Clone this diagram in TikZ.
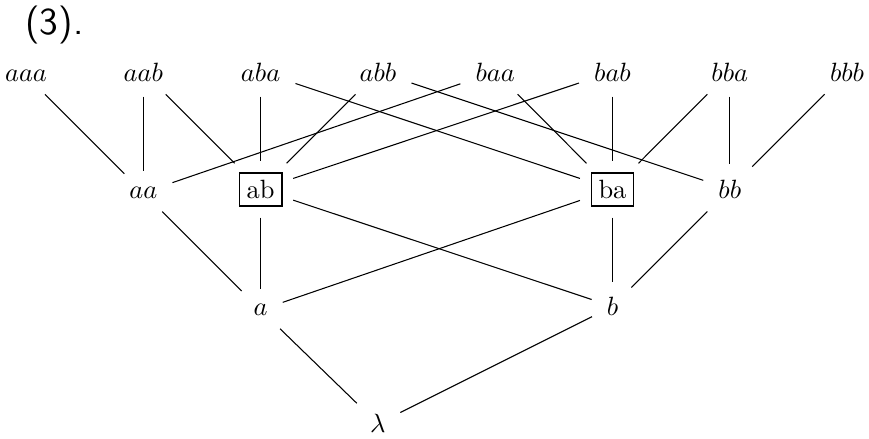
\documentclass[tikz,border=0pt]{standalone}
\usepackage{amsmath}
\usetikzlibrary{calc}

\begin{document}
\begin{tikzpicture}[
  x=1.56cm, y=1.56cm,
  word/.style={inner sep=2.7pt, anchor=base},
  boxed/.style={word, draw, line width=0.6pt, outer sep=1.5pt},
  link/.style={thin, shorten >=3pt, shorten <=3pt},
]
\useasboundingbox (-0.222,-0.051) rectangle (7.187,3.691);

% 标题
\node[anchor=base west, inner sep=0pt, font=\Large\sffamily] (title) at (-0.01,3.40) {(3).};

% 长度为 3 的词
\foreach \w [count=\i from 0] in {aaa,aab,aba,abb,baa,bab,bba,bbb}
  \node[word] (\w) at (\i,3) {$\w$};

% 长度为 2 的词 (方框为被选中的)
\node[word]  (aa) at (1,2) {$aa$};
\node[boxed] (ab) at (2,2) {ab};
\node[boxed] (ba) at (5,2) {ba};
\node[word]  (bb) at (6,2) {$bb$};

% 长度为 1 和空词
\node[word] (a) at (2,1) {$a$};
\node[word] (b) at (5,1) {$b$};
\node[word] (lam) at (3,0) {$\lambda$};

% 前缀与后缀的连线
\foreach \s/\t in {aaa/aa, aab/aa, aab/ab, aba/ab, aba/ba, abb/ab, abb/bb,
                   baa/aa, baa/ba, bab/ab, bab/ba, bba/ba, bba/bb, bbb/bb,
                   aa/a, ab/a, ab/b, ba/a, ba/b, bb/b, a/lam, b/lam}
  \draw[link] (\s) -- (\t);

\end{tikzpicture}
\end{document}
